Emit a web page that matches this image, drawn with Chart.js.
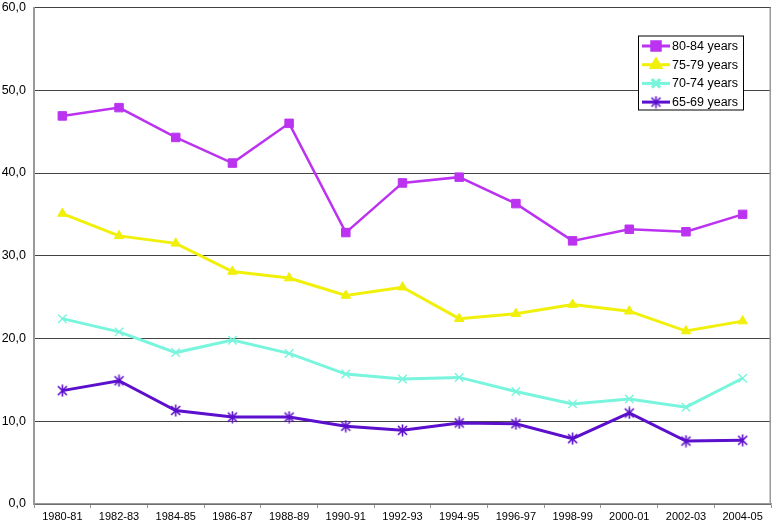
<!DOCTYPE html>
<html>
<head>
<meta charset="utf-8">
<script src="https://cdn.jsdelivr.net/npm/chart.js@4/dist/chart.umd.min.js"></script>
<style>
html,body{margin:0;padding:0;background:#fff;}
#wrap{width:773px;height:525px;position:relative;}
</style>
</head>
<body>
<div id="wrap"><canvas id="c" width="773" height="525"></canvas></div>
<script>
const categories = ["1980-81","1982-83","1984-85","1986-87","1988-89","1990-91","1992-93","1994-95","1996-97","1998-99","2000-01","2002-03","2004-05"];
const age80_84 = [46.9,47.9,44.3,41.2,46.0,32.8,38.8,39.5,36.3,31.8,33.2,32.9,35.0];
const age75_79 = [35.1,32.4,31.5,28.1,27.3,25.2,26.2,22.4,23.0,24.1,23.3,20.9,22.1];
const age70_74 = [22.4,20.8,18.3,19.8,18.2,15.7,15.1,15.3,13.6,12.1,12.7,11.7,15.2];
const age65_69 = [13.7,14.9,11.3,10.5,10.5,9.4,8.9,9.8,9.7,7.9,11.0,7.6,7.7];
const seriesLabels = ["80-84 years","75-79 years","70-74 years","65-69 years"];
const yTicks = [0,10,20,30,40,50,60];

// asterisk marker (X plus vertical bar)
function asteriskMarker(color){
  const s = 13, cv = document.createElement('canvas');
  cv.width = s; cv.height = s;
  const g = cv.getContext('2d');
  g.strokeStyle = color; g.lineWidth = 1.6;
  g.beginPath();
  g.moveTo(2,2); g.lineTo(s-2,s-2);
  g.moveTo(s-2,2); g.lineTo(2,s-2);
  g.moveTo(s/2,0.5); g.lineTo(s/2,s-0.5);
  g.stroke();
  return cv;
}

const colors = ['#bb33f0','#f0f00a','#78f5dc','#5c0fcc'];
const star = asteriskMarker(colors[3]);

const datasets = [
  {label:seriesLabels[0],data:age80_84,borderColor:colors[0],backgroundColor:colors[0],borderWidth:2.5,pointStyle:'rect',pointRadius:6,pointBorderWidth:1},
  {label:seriesLabels[1],data:age75_79,borderColor:colors[1],backgroundColor:colors[1],borderWidth:3,pointStyle:'triangle',pointRadius:5.5,pointBorderWidth:1},
  {label:seriesLabels[2],data:age70_74,borderColor:colors[2],backgroundColor:colors[2],borderWidth:3,pointStyle:'crossRot',pointRadius:6,pointBorderWidth:1.4},
  {label:seriesLabels[3],data:age65_69,borderColor:colors[3],backgroundColor:colors[3],borderWidth:3,pointStyle:star,pointRadius:6,pointBorderWidth:1.6}
];
datasets.forEach(d=>{d.tension=0;d.fill=false;d.pointHoverRadius=d.pointRadius;});

const boxLegend = {
  id:'boxLegend',
  afterDraw(chart){
    const ctx = chart.ctx, ca = chart.chartArea;
    const x0 = ca.right - 133, y0 = ca.top + 28, w = 105, h = 74;
    ctx.save();
    ctx.fillStyle = '#fff';
    ctx.fillRect(x0,y0,w,h);
    ctx.strokeStyle = '#000'; ctx.lineWidth = 1;
    ctx.strokeRect(x0+0.5,y0+0.5,w,h);
    chart.data.datasets.forEach((ds,i)=>{
      const y = y0 + 10.5 + i*18.7;
      ctx.strokeStyle = ds.borderColor; ctx.lineWidth = 3;
      ctx.beginPath(); ctx.moveTo(x0+4,y); ctx.lineTo(x0+32,y); ctx.stroke();
      ctx.fillStyle = ds.backgroundColor; ctx.strokeStyle = ds.borderColor;
      Chart.helpers.drawPoint(ctx,{pointStyle:ds.pointStyle,radius:ds.pointRadius,rotation:0,borderWidth:ds.pointBorderWidth},x0+18,y);
      ctx.fillStyle = '#000';
      ctx.font = '12.5px "Liberation Sans", Arial, sans-serif';
      ctx.textBaseline = 'middle'; ctx.textAlign = 'left';
      ctx.fillText(ds.label, x0+34, y+0.5);
    });
    // right border of plot area
    ctx.strokeStyle = '#999'; ctx.lineWidth = 1.5;
    ctx.beginPath(); ctx.moveTo(ca.right-0.75,ca.top); ctx.lineTo(ca.right-0.75,ca.bottom); ctx.stroke();
    ctx.restore();
  }
};

new Chart(document.getElementById('c'),{
  type:'line',
  data:{labels:categories,datasets:datasets},
  options:{
    responsive:false,
    animation:false,
    devicePixelRatio:1,
    layout:{autoPadding:false,padding:{top:0,right:2,left:0,bottom:0}},
    plugins:{legend:{display:false},tooltip:{enabled:false}},
    scales:{
      x:{
        offset:true,
        grid:{offset:true,drawOnChartArea:false,drawTicks:true,tickLength:4,color:'#999'},
        border:{color:'#999',width:1.5},
        ticks:{color:'#000',font:{family:'"Liberation Sans", Arial, sans-serif',size:11},padding:2,maxRotation:0,autoSkip:false},
        afterFit(s){s.height=21;}
      },
      y:{
        min:0,max:60,
        afterBuildTicks(s){s.ticks = yTicks.map(v=>({value:v}));},
        grid:{color:'#444',lineWidth:1,drawTicks:true,tickLength:8,tickColor:'rgba(0,0,0,0)'},
        border:{color:'#999',width:2},
        ticks:{color:'#000',font:{family:'"Liberation Sans", Arial, sans-serif',size:12.5},padding:0,
          callback:(v)=>v.toFixed(1).replace('.',',')},
        afterFit(s){s.width=34;}
      }
    }
  },
  plugins:[boxLegend]
});
</script>
</body>
</html>
